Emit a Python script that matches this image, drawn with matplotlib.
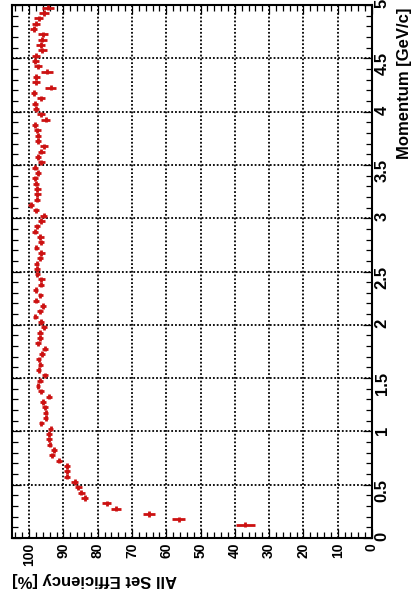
import matplotlib
matplotlib.use("Agg")
import matplotlib.pyplot as plt
from matplotlib.ticker import MultipleLocator

plt.rcParams["font.family"] = ["Liberation Sans", "DejaVu Sans"]
plt.rcParams["font.weight"] = "bold"

# Momentum bin centres [GeV/c]
momentum = [
    0.125, 0.175, 0.225, 0.275, 0.325, 0.375, 0.425, 0.475, 0.525, 0.575,
    0.625, 0.675, 0.725, 0.775, 0.825, 0.875, 0.925, 0.975, 1.025, 1.075,
    1.125, 1.175, 1.225, 1.275, 1.325, 1.375, 1.425, 1.475, 1.525, 1.575,
    1.625, 1.675, 1.725, 1.775, 1.825, 1.875, 1.925, 1.975, 2.025, 2.075,
    2.125, 2.175, 2.225, 2.275, 2.325, 2.375, 2.425, 2.475, 2.525, 2.575,
    2.625, 2.675, 2.725, 2.775, 2.825, 2.875, 2.925, 2.975, 3.025, 3.075,
    3.125, 3.175, 3.225, 3.275, 3.325, 3.375, 3.425, 3.475, 3.525, 3.575,
    3.625, 3.675, 3.725, 3.775, 3.825, 3.875, 3.925, 3.975, 4.025, 4.075,
    4.125, 4.175, 4.225, 4.275, 4.325, 4.375, 4.425, 4.475, 4.525, 4.575,
    4.625, 4.675, 4.725, 4.775, 4.825, 4.875, 4.925, 4.975,
]

# Efficiency per bin [%]
efficiency = [
    36.9, 56.4, 65.1, 74.6, 77.4, 83.8, 84.8, 85.7, 86.7, 89.0,
    89.0, 89.0, 91.4, 93.3, 92.7, 94.0, 94.2, 94.2, 93.7, 96.4,
    95.2, 95.2, 95.4, 95.9, 94.2, 96.6, 97.4, 96.9, 95.4, 97.2,
    96.7, 97.2, 96.2, 95.4, 97.4, 96.9, 96.8, 95.6, 96.6, 98.2,
    96.9, 96.0, 98.0, 96.7, 98.1, 96.5, 96.4, 97.6, 97.7, 97.8,
    96.8, 96.4, 97.9, 96.6, 96.7, 98.3, 97.7, 96.4, 95.8, 98.0,
    99.5, 97.8, 97.6, 97.6, 98.0, 98.2, 97.4, 98.2, 96.4, 97.4,
    96.4, 95.6, 97.4, 97.4, 97.6, 98.3, 95.2, 96.6, 98.0, 98.3,
    96.6, 98.6, 93.7, 98.0, 97.9, 94.8, 97.4, 98.2, 98.0, 96.2,
    96.6, 96.2, 95.9, 98.7, 97.9, 97.2, 95.6, 94.5,
]

# Statistical uncertainty on the efficiency [%]
efficiency_err = [
    2.7, 2.0, 1.7, 1.5, 1.4, 1.1, 1.0, 1.0, 1.0, 0.9,
    0.9, 0.9, 0.9, 0.8, 0.8, 0.8, 0.8, 0.8, 0.8, 0.7,
    0.8, 0.8, 0.8, 0.8, 0.9, 0.8, 0.7, 0.8, 0.9, 0.8,
    0.8, 0.8, 0.8, 0.9, 0.8, 0.8, 0.8, 0.9, 0.8, 0.7,
    0.8, 0.9, 0.8, 0.8, 0.8, 0.9, 0.9, 0.8, 0.8, 0.8,
    0.9, 0.9, 0.8, 0.9, 0.9, 0.8, 0.9, 1.0, 1.0, 0.9,
    0.8, 0.9, 1.0, 1.0, 0.9, 0.9, 1.0, 0.9, 1.1, 1.0,
    1.1, 1.2, 1.0, 1.0, 1.0, 1.0, 1.3, 1.1, 1.0, 1.0,
    1.2, 1.0, 1.6, 1.1, 1.1, 1.7, 1.2, 1.1, 1.1, 1.3,
    1.3, 1.3, 1.4, 1.1, 1.2, 1.3, 1.5, 1.7,
]

bin_half_width = 0.025

eff_ticks = [0, 10, 20, 30, 40, 50, 60, 70, 80, 90, 100]
eff_tick_labels = ["0", "10", "20", "30", "40", "50", "60", "70", "80", "90", "100"]
mom_ticks = [0, 0.5, 1, 1.5, 2, 2.5, 3, 3.5, 4, 4.5, 5]
mom_tick_labels = ["0", "0.5", "1", "1.5", "2", "2.5", "3", "3.5", "4", "4.5", "5"]

fig = plt.figure(figsize=(4.12, 5.98), dpi=100)
ax = fig.add_axes([12 / 412, 1 - 538 / 598, 360 / 412, 533 / 598])

ax.errorbar(efficiency, momentum, xerr=efficiency_err, yerr=bin_half_width,
            fmt="none", ecolor="#cc1111", elinewidth=2.0, capsize=0, zorder=3)

ax.set_xlim(105, 0)
ax.set_ylim(0, 5)

ax.set_xticks(eff_ticks, labels=eff_tick_labels)
ax.set_yticks(mom_ticks, labels=mom_tick_labels)
ax.xaxis.set_minor_locator(MultipleLocator(2))
ax.yaxis.set_minor_locator(MultipleLocator(0.1))

ax.tick_params(which="both", direction="in", top=True, bottom=True,
               left=True, right=True, width=0.9, color="black")
ax.tick_params(which="major", length=6.5)
ax.tick_params(which="minor", length=4.3)
ax.tick_params(axis="x", labelrotation=90, labelsize=10, pad=3.5)
ax.tick_params(axis="y", labelleft=False, labelright=True,
               labelrotation=90, labelsize=12, pad=2)

ax.grid(True, which="major", color="black", linestyle=(0, (1, 1.1)),
        linewidth=1.3, zorder=1)

for side in ax.spines.values():
    side.set_linewidth(1.5)

ax.set_xlabel("All Set Efficiency [%]", fontsize=12, fontweight="bold",
              rotation=180, ha="left", va="center")
ax.xaxis.set_label_coords(0.0, -0.077)

ax.yaxis.set_label_position("right")
ax.set_ylabel("Momentum [GeV/c]", fontsize=12, fontweight="bold",
              rotation=90, ha="center", va="top")
ax.yaxis.label.set_rotation_mode("default")
ax.yaxis.label.set_horizontalalignment("center")
ax.yaxis.label.set_verticalalignment("top")
ax.yaxis.set_label_coords(1.089, 0.996)

fig.savefig("out.png", dpi=100)
